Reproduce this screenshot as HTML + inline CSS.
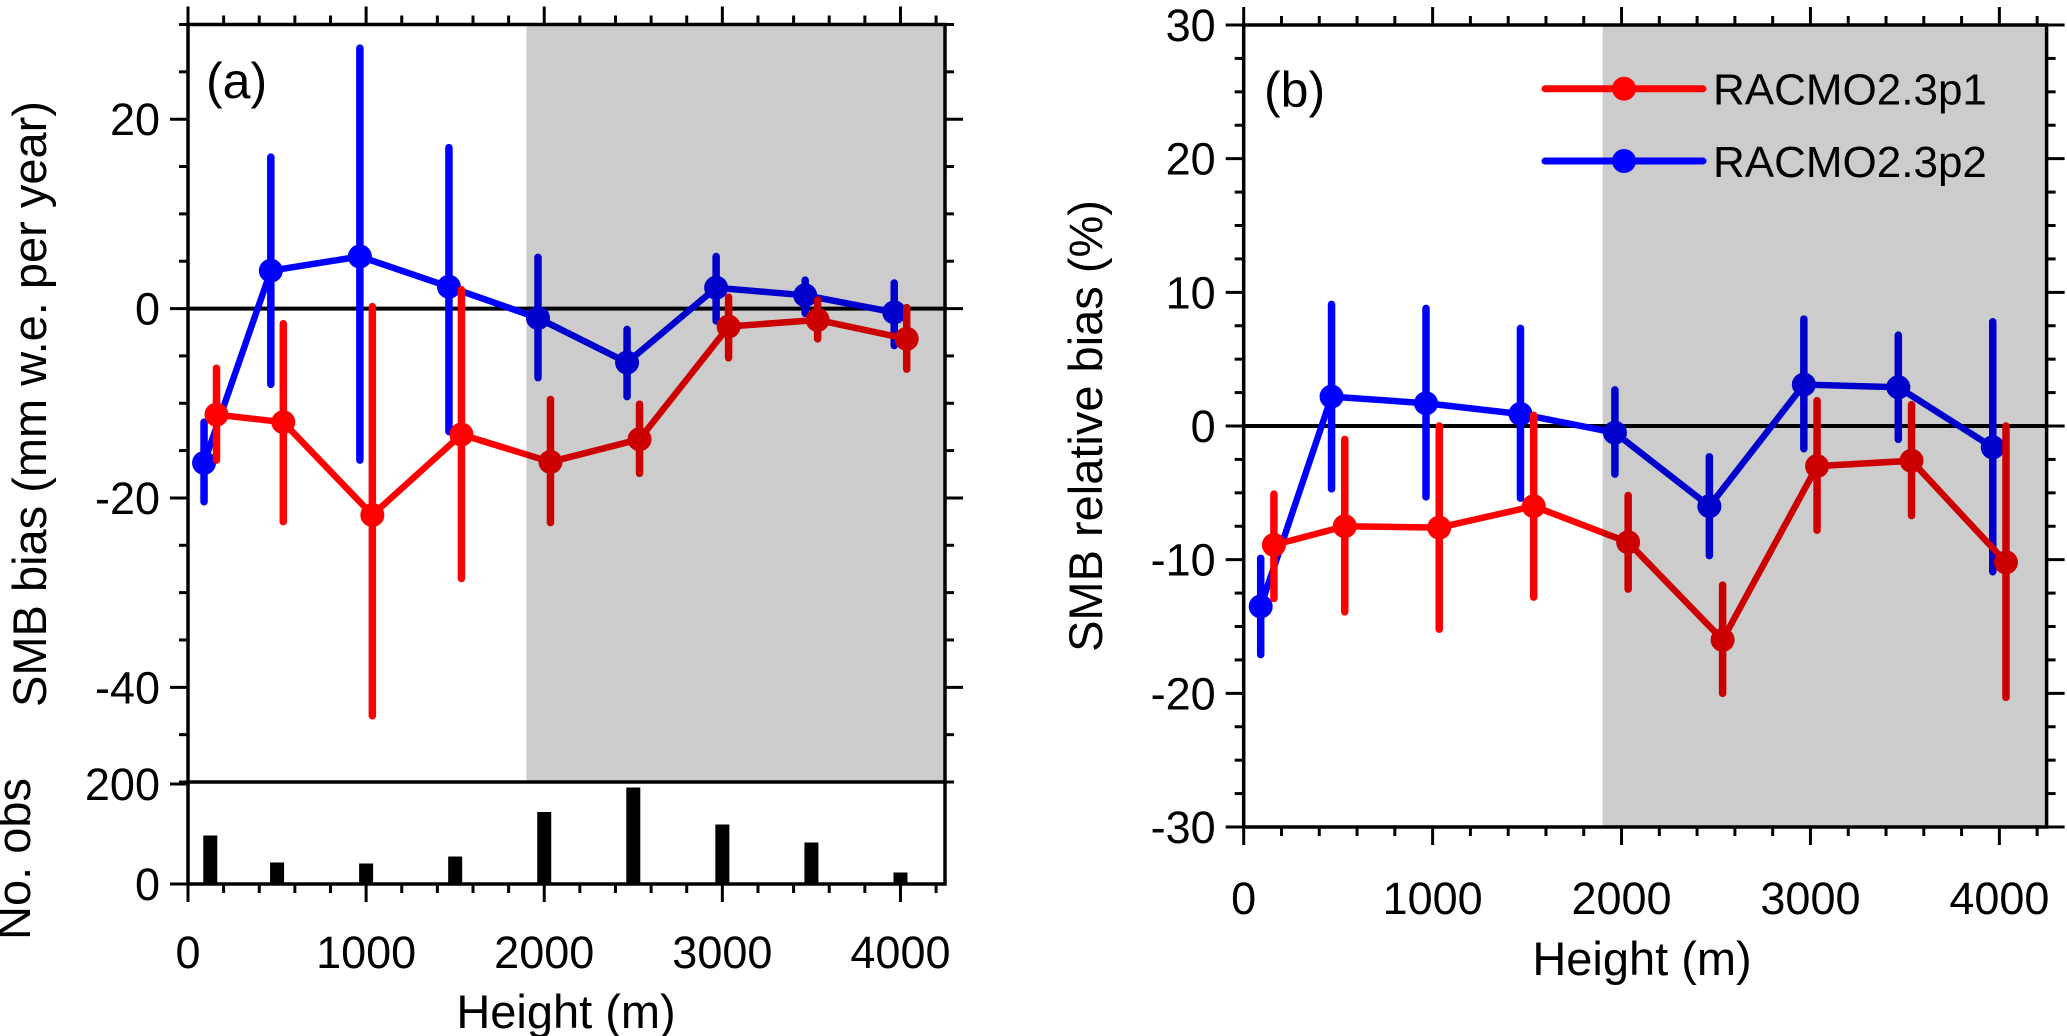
<!DOCTYPE html>
<html><head><meta charset="utf-8">
<style>
html,body{margin:0;padding:0;background:#fff;}
svg{display:block;font-family:"Liberation Sans",Arial,sans-serif;}
</style></head>
<body>
<svg id="fig" width="2067" height="1036" viewBox="0 0 2067 1036" xmlns="http://www.w3.org/2000/svg"></svg>
<script>
// ---- data ----
const xBlue = [90,465,965,1465,1965,2465,2965,3465,3965];
const xRed  = [160,535,1035,1535,2035,2535,3035,3535,4035];
const aBlue = [-16.3,4.0,5.5,2.3,-1.0,-5.7,2.2,1.4,-0.4];
const aBlueHi = [-12,16,27.5,17,5.4,-2.2,5.5,3.0,2.7];
const aBlueLo = [-20.4,-8,-16,-13,-7.3,-9.3,-1.3,-0.5,-3.9];
const aRed = [-11.2,-12.0,-21.8,-13.3,-16.2,-13.8,-1.9,-1.2,-3.2];
const aRedHi = [-6.3,-1.6,0.2,2,-9.6,-10.1,1.2,0.9,0.1];
const aRedLo = [-16,-22.5,-43,-28.5,-22.6,-17.4,-5.2,-3.2,-6.4];
const obsX = [125,500,1000,1500,2000,2500,3000,3500,4000];
const obsN = [97,43,41,55,144,193,119,83,23];
const bBlue = [-13.5,2.2,1.7,0.9,-0.5,-6.0,3.1,2.9,-1.6];
const bBlueHi = [-9.9,9.1,8.8,7.3,2.7,-2.3,8.0,6.8,7.8];
const bBlueLo = [-17.1,-4.7,-5.3,-5.4,-3.6,-9.7,-1.7,-1.0,-10.9];
const bRed = [-8.9,-7.5,-7.6,-6.0,-8.7,-16.0,-3.0,-2.6,-10.2];
const bRedHi = [-5.1,-1.0,0,0.8,-5.2,-11.9,1.9,1.6,0];
const bRedLo = [-12.9,-13.9,-15.2,-12.8,-12.2,-20.0,-7.8,-6.7,-20.3];
const xTicks = [0,1000,2000,3000,4000];
const aYTicks = [20,0,-20,-40];
const bYTicks = [30,20,10,0,-10,-20,-30];

const NS="http://www.w3.org/2000/svg";
const svg=document.getElementById('fig');
function el(tag,attrs,parent){const e=document.createElementNS(NS,tag);for(const k in attrs)e.setAttribute(k,attrs[k]);(parent||svg).appendChild(e);return e;}
function txt(s,attrs,parent){const e=el('text',attrs,parent);e.textContent=s;return e;}

function panel(P){
  const g=el('g',{});
  
  
  const sx=v=>P.x0+(v-0)*(P.x1-P.x0)/4250;
  const sy=v=>P.y0+(P.ymax-v)*(P.y1-P.y0)/(P.ymax-P.ymin);
  const ser=el('g',{},g);
  const z=el('line',{x1:P.x0,x2:P.x1,y1:sy(0),y2:sy(0),stroke:'#000','stroke-width':4},ser);
  
  
  for(const S of P.series){
    const sg=el('g',{},ser);
    
    
    let pts=S.x.map((x,i)=>sx(x)+','+sy(S.v[i])).join(' ');
    el('polyline',{points:pts,fill:'none',stroke:S.c,'stroke-width':6.5,'stroke-linejoin':'round'},sg);
    S.x.forEach((x,i)=>{
      const b=el('line',{x1:sx(x),x2:sx(x),y1:sy(S.hi[i]),y2:sy(S.lo[i]),stroke:S.c,'stroke-width':7.5,'stroke-linecap':'round'},sg);
      
      
      const c=el('circle',{cx:sx(x),cy:sy(S.v[i]),r:12,fill:S.c},sg);
      
      
    });
  }
  const sh=el('rect',{x:sx(1900),y:P.y0,width:P.x1-sx(1900),height:P.y1-P.y0,fill:'#cccccc',style:'mix-blend-mode:multiply'},g);
  
  
  el('rect',{x:P.x0,y:P.y0,width:P.x1-P.x0,height:P.y1-P.y0,fill:'none',stroke:'#000','stroke-width':3.5},g);
  for(let v=P.ymin;v<=P.ymax+1e-6;v+=P.minor){
    const maj=Math.abs(v/P.major-Math.round(v/P.major))<1e-6;
    const L=maj?18:9,y=sy(v);
    el('line',{x1:P.x0-L,x2:P.x0,y1:y,y2:y,stroke:'#000','stroke-width':3},g);
    el('line',{x1:P.x1,x2:P.x1+L,y1:y,y2:y,stroke:'#000','stroke-width':3},g);
  }
  P.yt.forEach(v=>{
    const t=txt(String(v),{x:P.x0-28,y:sy(v)+16,'font-size':45,'text-anchor':'end'},g);
    
    
  });
  for(let v=0;v<=4250;v+=200){
    const maj=v%1000===0,L=maj?18:9;
    el('line',{x1:sx(v),x2:sx(v),y1:P.y0-L,y2:P.y0,stroke:'#000','stroke-width':3},g);
  }
  return {g,sx,sy};
}

const A=panel({name:'panel-a',x0:188,x1:945,y0:24.5,y1:782,ymin:-50,ymax:30,major:20,minor:5,yt:aYTicks,
  series:[{name:'series-racmo2.3p2',x:xBlue,v:aBlue,hi:aBlueHi,lo:aBlueLo,c:'#0000ff'},
          {name:'series-racmo2.3p1',x:xRed,v:aRed,hi:aRedHi,lo:aRedLo,c:'#ff0000'}]});
txt('(a)',{x:206,y:98,'font-size':50},A.g);
const og=el('g',{});


const oy=v=>884-v*0.5;
obsX.forEach((x,i)=>{
  const r=el('rect',{x:A.sx(x)-7,y:oy(obsN[i]),width:14,height:884-oy(obsN[i]),fill:'#000'},og);
  
  
});
el('polyline',{points:'188,782 188,884 945,884 945,782',fill:'none',stroke:'#000','stroke-width':3.5},og);
[200,0].forEach(v=>{
  el('line',{x1:170,x2:188,y1:oy(v),y2:oy(v),stroke:'#000','stroke-width':3},og);
  const t=txt(String(v),{x:160,y:oy(v)+16,'font-size':45,'text-anchor':'end'},og);
  
  
});
for(let v=0;v<=4250;v+=200){const L=v%1000===0?18:9;el('line',{x1:A.sx(v),x2:A.sx(v),y1:884,y2:884+L,stroke:'#000','stroke-width':3},og);}
xTicks.forEach(v=>{const t=txt(String(v),{x:A.sx(v),y:968,'font-size':45,'text-anchor':'middle'},og);
  
  });
let t;
t=txt('Height (m)',{x:566,y:1028,'font-size':47,'text-anchor':'middle'});


t=txt('SMB bias (mm w.e. per year)',{x:0,y:0,'font-size':47,'text-anchor':'middle',transform:'translate(46,404) rotate(-90)'});


t=txt('No. obs',{x:0,y:0,'font-size':47,'text-anchor':'middle',transform:'translate(30,859) rotate(-90)'});



const B=panel({name:'panel-b',x0:1243.7,x1:2046.6,y0:25,y1:827,ymin:-30,ymax:30,major:10,minor:2.5,yt:bYTicks,
  series:[{name:'series-racmo2.3p2',x:xBlue,v:bBlue,hi:bBlueHi,lo:bBlueLo,c:'#0000ff'},
          {name:'series-racmo2.3p1',x:xRed,v:bRed,hi:bRedHi,lo:bRedLo,c:'#ff0000'}]});
for(let v=0;v<=4250;v+=200){const L=v%1000===0?18:9;el('line',{x1:B.sx(v),x2:B.sx(v),y1:827,y2:827+L,stroke:'#000','stroke-width':3},B.g);}
xTicks.forEach(v=>{const t=txt(String(v),{x:B.sx(v),y:914,'font-size':45,'text-anchor':'middle'},B.g);
  
  });
txt('(b)',{x:1264,y:107,'font-size':50},B.g);
t=txt('Height (m)',{x:1642,y:975,'font-size':47,'text-anchor':'middle'});


t=txt('SMB relative bias (%)',{x:0,y:0,'font-size':47,'text-anchor':'middle',transform:'translate(1102,426) rotate(-90)'});


const lg=el('g',{});


[['RACMO2.3p1','#ff0000',88.7],['RACMO2.3p2','#0000ff',161]].forEach(([n,c,y])=>{
  const e=el('g',{},lg);
  
  
  el('line',{x1:1545,x2:1703,y1:y,y2:y,stroke:c,'stroke-width':7,'stroke-linecap':'round'},e);
  el('circle',{cx:1624,cy:y,r:12,fill:c},e);
  txt(n,{x:1713,y:y+16,'font-size':44},e);
});
</script>
</body></html>
